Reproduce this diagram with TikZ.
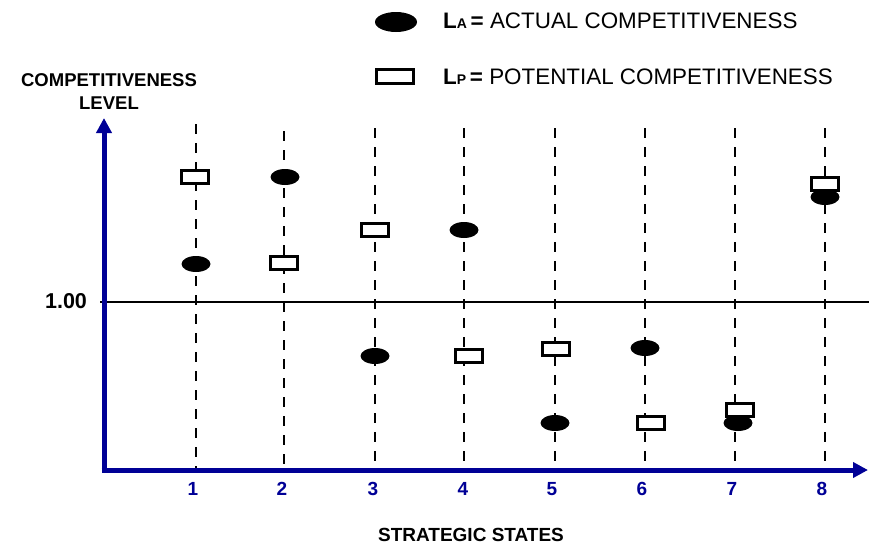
\documentclass[tikz,border=0pt]{standalone}
\usepackage{fontspec}
\setmainfont{Liberation Sans}
\usetikzlibrary{arrows.meta,shapes.geometric,calc}
\definecolor{axisblue}{RGB}{0,0,150}
\newcommand\lgfont{\fontsize{22.4}{26}\selectfont}
\newcommand\lgsub{\fontsize{14}{16}\selectfont\bfseries}
\begin{document}
\begin{tikzpicture}[x=1pt,y=-1pt,
  actual/.style={ellipse,fill=black,minimum width=29pt,minimum height=16pt,inner sep=0pt},
  potential/.style={rectangle,draw=black,line width=3pt,fill=white,minimum width=27pt,minimum height=13pt,inner sep=0pt},
  guide/.style={line width=2.8pt,dash pattern=on 10pt off 9pt},
  axis/.style={draw=axisblue,line width=5pt,-{Triangle[length=15pt,width=15pt]}},
  tick/.style={text=axisblue,font=\fontsize{19}{21}\selectfont\bfseries},
  title/.style={font=\fontsize{18.5}{23}\selectfont\bfseries,align=center}]
\useasboundingbox (0,0) rectangle (869,546);

% guide lines for the eight states
\foreach \i/\x/\t in {1/196/124,2/284/131,3/375/128,4/464/128,5/555/128,6/645/128,7/735/128,8/825/128}{
  \coordinate (top\i) at (\x,\t);
  \coordinate (bot\i) at (\x,470);
  \draw[guide] (top\i) -- (bot\i);
}

% reference level
\coordinate (refL) at (100,302);
\coordinate (refR) at (869,302);
\draw[line width=2pt] (refL) -- (refR);
\node[font=\fontsize{21.5}{23}\selectfont\bfseries] (one) at (66,301.5) {1.00};

% axes
\coordinate (origin) at (104,470);
\coordinate (ytip) at (104,118);
\coordinate (xtip) at (868,470);
\draw[axis] ($(origin)+(0,2.5)$) -- (ytip);
\draw[axis] ($(origin)+(-2.5,0)$) -- (xtip);

% actual competitiveness
\foreach \n/\x/\y in {a1/196/264,a2/285/177,a3/375/356,a4/464/230,a5/555/423,a6/645/348,a7/738/423,a8/825/197}
  \node[actual] (\n) at (\x,\y) {};
% potential competitiveness
\foreach \n/\x/\y in {p1/195/177,p2/284/263,p3/375/230,p4/469/356,p5/556/349,p6/651/423,p7/740/410,p8/825/184}
  \node[potential] (\n) at (\x,\y) {};

% state numbers
\foreach \i/\x in {1/193,2/282,3/373,4/463,5/552,6/642,7/732,8/822}
  \node[tick] (n\i) at (\x,489) {\i};

% axis titles
\node[title] (ytitle) at (109,91.5) {COMPETITIVENESS\\LEVEL};
\node[title,font=\fontsize{19}{21}\selectfont\bfseries] (xtitle) at (471,535) {STRATEGIC STATES};

% legend
\node[actual,minimum width=42pt,minimum height=20pt] (keyA) at (396,22) {};
\node[potential,minimum width=37pt,minimum height=14pt] (keyP) at (395,76.5) {};
\node[anchor=west,inner sep=0pt,font=\lgfont] (txtA) at (443,21) {\textbf{L}{\lgsub A}\,\textbf{=} ACTUAL COMPETITIVENESS};
\node[anchor=west,inner sep=0pt,font=\lgfont] (txtP) at (443,76.5) {\textbf{L}{\lgsub P}\,\textbf{=} POTENTIAL COMPETITIVENESS};
\end{tikzpicture}
\end{document}
